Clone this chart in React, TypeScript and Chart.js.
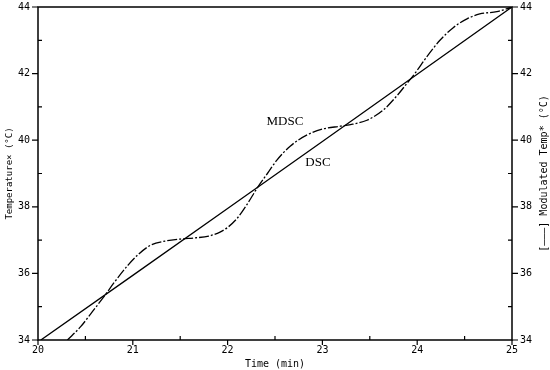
import React, { useEffect, useRef } from "react";
import { Chart, registerables } from "chart.js";
Chart.register(...registerables);

const dscTime = [20.03, 21, 22, 23, 24, 25];
const dscTemp = [34.0, 35.94, 37.95, 39.96, 41.98, 44.0];

const mdscTime = [
  20.31, 20.45, 20.56, 20.7, 20.81, 20.95, 21.05, 21.19, 21.34, 21.5, 21.67, 21.8,
  21.92, 22.0, 22.1, 22.2, 22.32, 22.42, 22.52, 22.66, 22.84, 23.01, 23.19, 23.32,
  23.47, 23.64, 23.8, 23.89, 23.98, 24.1, 24.24, 24.38, 24.53, 24.66, 24.84, 24.95, 25.0,
];
const mdscTemp = [
  34.0, 34.4, 34.8, 35.32, 35.75, 36.25, 36.55, 36.85, 36.97, 37.03, 37.07, 37.12,
  37.24, 37.38, 37.65, 38.05, 38.6, 39.0, 39.4, 39.82, 40.16, 40.34, 40.42, 40.48,
  40.6, 40.9, 41.38, 41.7, 42.02, 42.5, 43.0, 43.38, 43.65, 43.79, 43.86, 43.95, 44.0,
];

const xTicks = [20, 21, 22, 23, 24, 25];
const xMinor = [20.5, 21.5, 22.5, 23.5, 24.5];
const yTicks = [34, 36, 38, 40, 42, 44];
const yMinor = [35, 37, 39, 41, 43];

const xTitle = "Time (min)";
const yLeftTitle = "Temperature× (°C)";
const yRightTitle = "[———] Modulated Temp* (°C)";

const annoText = ["MDSC", "DSC"];
const annoT = [22.41, 22.82];
const annoY = [40.55, 39.32];

const MONO = '"DejaVu Sans Mono", monospace';
const SERIF = '"Liberation Serif", "Times New Roman", serif';

const framePlugin = {
  id: "frame",
  afterDraw(chart: any) {
    const ctx = chart.ctx as CanvasRenderingContext2D;
    const { left, right, top, bottom } = chart.chartArea;
    const xs = chart.scales.x;
    const ys = chart.scales.y;
    ctx.save();
    ctx.strokeStyle = "#000";
    ctx.fillStyle = "#000";
    ctx.lineWidth = 1.5;
    ctx.beginPath();
    ctx.moveTo(left, top);
    ctx.lineTo(right, top);
    ctx.lineTo(right, bottom);
    ctx.lineTo(left, bottom);
    ctx.closePath();
    ctx.stroke();

    ctx.lineWidth = 1.2;
    ctx.font = `10px ${MONO}`;
    // x ticks
    ctx.textAlign = "center";
    ctx.textBaseline = "middle";
    xTicks.forEach((v) => {
      const px = xs.getPixelForValue(v);
      ctx.beginPath();
      ctx.moveTo(px, bottom);
      ctx.lineTo(px, bottom + 5);
      ctx.stroke();
      ctx.fillText(String(v), px, bottom + 10);
    });
    xMinor.forEach((v) => {
      const px = xs.getPixelForValue(v);
      ctx.beginPath();
      ctx.moveTo(px, bottom);
      ctx.lineTo(px, bottom - 4);
      ctx.stroke();
    });
    // y ticks
    yTicks.forEach((v) => {
      const py = ys.getPixelForValue(v);
      ctx.beginPath();
      ctx.moveTo(left - 6, py);
      ctx.lineTo(left, py);
      ctx.moveTo(right, py);
      ctx.lineTo(right + 6, py);
      ctx.stroke();
      ctx.textAlign = "right";
      ctx.fillText(String(v), left - 8, py);
      ctx.textAlign = "left";
      ctx.fillText(String(v), right + 8, py);
    });
    yMinor.forEach((v) => {
      const py = ys.getPixelForValue(v);
      ctx.beginPath();
      ctx.moveTo(left, py);
      ctx.lineTo(left + 4, py);
      ctx.moveTo(right - 4, py);
      ctx.lineTo(right, py);
      ctx.stroke();
    });
    // titles
    ctx.textAlign = "center";
    ctx.fillText(xTitle, (left + right) / 2, bottom + 24);
    const midY = (top + bottom) / 2;
    ctx.save();
    ctx.translate(10, midY);
    ctx.rotate(-Math.PI / 2);
    ctx.font = `9px ${MONO}`;
    ctx.fillText(yLeftTitle, 0, 0);
    ctx.restore();
    ctx.save();
    ctx.translate(544, midY);
    ctx.rotate(-Math.PI / 2);
    ctx.font = `10px ${MONO}`;
    ctx.fillText(yRightTitle, 0, 0);
    ctx.restore();
    // annotations
    ctx.font = `13px ${SERIF}`;
    ctx.textAlign = "left";
    annoText.forEach((t, i) => {
      ctx.fillText(t, xs.getPixelForValue(annoT[i]), ys.getPixelForValue(annoY[i]));
    });
    ctx.restore();
  },
};

export default function App() {
  const ref = useRef<HTMLCanvasElement | null>(null);
  useEffect(() => {
    if (!ref.current) return;
    const chart = new Chart(ref.current, {
      type: "line",
      data: {
        datasets: [
          {
            label: "DSC",
            data: dscTime.map((t, i) => ({ x: t, y: dscTemp[i] })),
            borderColor: "#000",
            borderWidth: 1.3,
            pointRadius: 0,
            tension: 0,
            fill: false,
          },
          {
            label: "MDSC",
            data: mdscTime.map((t, i) => ({ x: t, y: mdscTemp[i] })),
            borderColor: "#000",
            borderWidth: 1.3,
            borderDash: [10, 2, 2, 2],
            pointRadius: 0,
            cubicInterpolationMode: "monotone",
            fill: false,
          },
        ],
      },
      options: {
        responsive: false,
        animation: false,
        devicePixelRatio: 1,
        layout: { padding: { left: 38, right: 38, top: 7, bottom: 30 } },
        plugins: { legend: { display: false }, tooltip: { enabled: false } },
        scales: {
          x: { type: "linear", min: 20, max: 25, display: false },
          y: { type: "linear", min: 34, max: 44, display: false },
        },
      },
      plugins: [framePlugin],
    } as any);
    return () => chart.destroy();
  }, []);
  return (
    <div style={{ position: "absolute", left: 0, top: 0, width: 550, height: 370, background: "#fff" }}>
      <canvas ref={ref} width={550} height={370} />
    </div>
  );
}
